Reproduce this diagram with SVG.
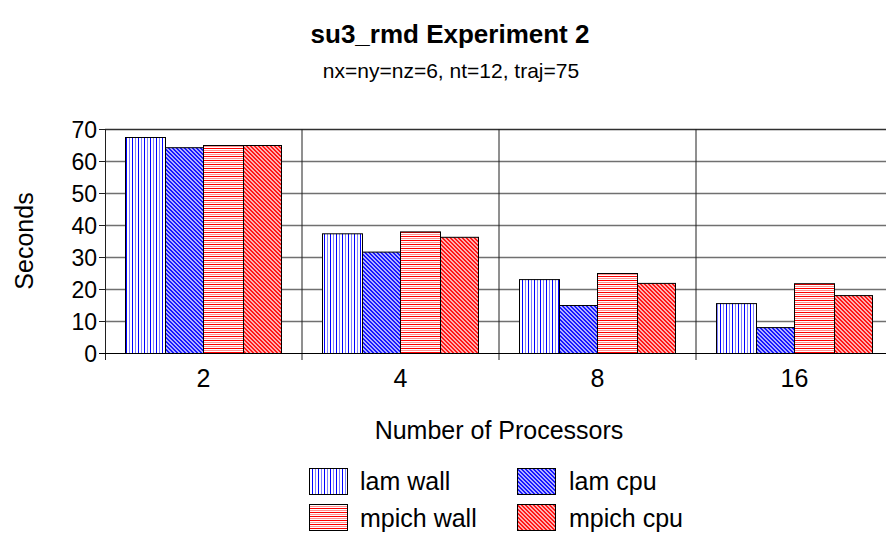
<svg xmlns="http://www.w3.org/2000/svg" width="886" height="534" viewBox="0 0 886 534">
<style>
text{font-family:"Liberation Sans",Arial,sans-serif;fill:#000}
.t{font-size:26px;font-weight:bold;text-anchor:middle}
.s{font-size:21px;text-anchor:middle}
.y{font-size:23px;text-anchor:end}
.x{font-size:25px;text-anchor:middle}
.ax{font-size:25px;text-anchor:middle}
.lg{font-size:25px}
.grid{stroke:#707070;stroke-width:1.5}
.div{stroke:#202020;stroke-width:1}
.bar{stroke:#000;stroke-width:1}
</style>
<defs>
<pattern id="lw" patternUnits="userSpaceOnUse" width="6" height="10"><rect width="6" height="10" fill="#fff"/><rect x="0" width="1" height="10" fill="#0000ff"/><rect x="3" width="1" height="10" fill="#8080ff"/></pattern>
<pattern id="lc" patternUnits="userSpaceOnUse" width="4" height="4"><rect width="4" height="4" fill="#b0b0ff"/><path d="M0 0h2v1h-2zM1 1h2v1h-2zM2 2h2v1h-2zM3 3h1v1h-1zM0 3h1v1h-1z" fill="#1818ff"/></pattern>
<pattern id="mw" patternUnits="userSpaceOnUse" width="10" height="4"><rect width="10" height="4" fill="#fff"/><rect y="0" width="10" height="1" fill="#ff0000"/><rect y="2" width="10" height="1" fill="#ff9090"/></pattern>
<pattern id="mc" patternUnits="userSpaceOnUse" width="4" height="4"><rect width="4" height="4" fill="#ffb0b0"/><path d="M0 0h2v1h-2zM1 1h2v1h-2zM2 2h2v1h-2zM3 3h1v1h-1zM0 3h1v1h-1z" fill="#ff1818"/></pattern>
</defs>
<rect width="886" height="534" fill="#fff"/>
<g id="title"><text class="t" x="450" y="43">su3_rmd Experiment 2</text><text class="s" x="451" y="78">nx=ny=nz=6, nt=12, traj=75</text></g>
<g id="grid">
<line class="grid" x1="105" y1="321.5" x2="886" y2="321.5"/>
<line class="grid" x1="105" y1="289.5" x2="886" y2="289.5"/>
<line class="grid" x1="105" y1="257.5" x2="886" y2="257.5"/>
<line class="grid" x1="105" y1="225.5" x2="886" y2="225.5"/>
<line class="grid" x1="105" y1="193.5" x2="886" y2="193.5"/>
<line class="grid" x1="105" y1="161.5" x2="886" y2="161.5"/>
<line x1="105" y1="129.5" x2="886" y2="129.5" stroke="#303030" stroke-width="1.5"/>
<line class="div" x1="105.5" y1="129" x2="105.5" y2="360"/>
<line class="div" x1="302" y1="129" x2="302" y2="360"/>
<line class="div" x1="499" y1="129" x2="499" y2="360"/>
<line class="div" x1="696" y1="129" x2="696" y2="360"/>
<g class="div"><line x1="99" y1="129.5" x2="105" y2="129.5"/><line x1="99" y1="161.5" x2="105" y2="161.5"/><line x1="99" y1="193.5" x2="105" y2="193.5"/><line x1="99" y1="225.5" x2="105" y2="225.5"/><line x1="99" y1="257.5" x2="105" y2="257.5"/><line x1="99" y1="289.5" x2="105" y2="289.5"/><line x1="99" y1="321.5" x2="105" y2="321.5"/></g>
</g>
<g id="yaxis">
<text class="y" x="97" y="138">70</text><text class="y" x="97" y="170">60</text><text class="y" x="97" y="202">50</text><text class="y" x="97" y="234">40</text><text class="y" x="97" y="266">30</text><text class="y" x="97" y="298">20</text><text class="y" x="97" y="330">10</text><text class="y" x="97" y="362">0</text>
<text class="ax" transform="translate(33,241) rotate(-90)">Seconds</text>
</g>
<g id="bars">
<rect class="bar" fill="url(#lw)" x="125.5" y="137.5" width="40" height="216"/>
<rect class="bar" fill="url(#lc)" x="165.5" y="147.7" width="38" height="205.8"/>
<rect class="bar" fill="url(#mw)" x="203.5" y="145.5" width="40" height="208"/>
<rect class="bar" fill="url(#mc)" x="243.5" y="145.5" width="38" height="208"/>
<rect class="bar" fill="url(#lw)" x="322.5" y="233.8" width="40" height="119.7"/>
<rect class="bar" fill="url(#lc)" x="362.5" y="252.1" width="38" height="101.4"/>
<rect class="bar" fill="url(#mw)" x="400.5" y="231.9" width="40" height="121.6"/>
<rect class="bar" fill="url(#mc)" x="440.5" y="237.3" width="38" height="116.2"/>
<rect class="bar" fill="url(#lw)" x="519.5" y="279.6" width="40" height="73.9"/>
<rect class="bar" fill="url(#lc)" x="559.5" y="305.5" width="38" height="48"/>
<rect class="bar" fill="url(#mw)" x="597.5" y="273.5" width="40" height="80"/>
<rect class="bar" fill="url(#mc)" x="637.5" y="283.4" width="38" height="70.1"/>
<rect class="bar" fill="url(#lw)" x="716.5" y="303.6" width="40" height="49.9"/>
<rect class="bar" fill="url(#lc)" x="756.5" y="327.6" width="38" height="25.9"/>
<rect class="bar" fill="url(#mw)" x="794.5" y="283.7" width="40" height="69.8"/>
<rect class="bar" fill="url(#mc)" x="834.5" y="295.6" width="38" height="57.9"/>
</g>
<line x1="99" y1="353.5" x2="886" y2="353.5" stroke="#000" stroke-width="1"/>
<g id="xaxis">
<text class="x" x="203.5" y="387">2</text><text class="x" x="400.5" y="387">4</text><text class="x" x="597.5" y="387">8</text><text class="x" x="794.5" y="387">16</text>
<text class="ax" x="499" y="439">Number of Processors</text>
</g>
<g id="legend">
<rect class="bar" fill="url(#lw)" x="309.5" y="468.5" width="38" height="26"/><text class="lg" x="360" y="490">lam wall</text>
<rect class="bar" fill="url(#lc)" x="517.5" y="468.5" width="38" height="26"/><text class="lg" x="569" y="490">lam cpu</text>
<rect class="bar" fill="url(#mw)" x="309.5" y="504.5" width="38" height="26"/><text class="lg" x="360" y="527">mpich wall</text>
<rect class="bar" fill="url(#mc)" x="517.5" y="504.5" width="38" height="26"/><text class="lg" x="569" y="527">mpich cpu</text>
</g>
</svg>
